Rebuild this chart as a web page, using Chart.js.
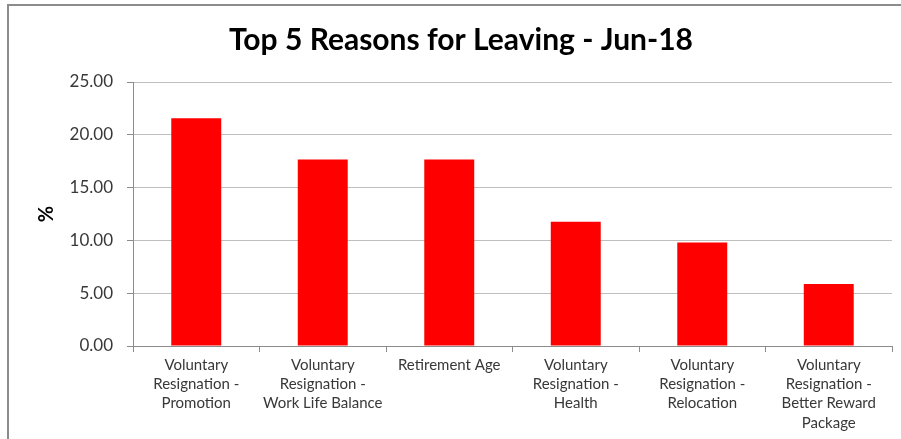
<!DOCTYPE html>
<html lang="en">
<head>
  <meta charset="UTF-8">
  <title>Top 5 Reasons for Leaving</title>
  <script src="https://cdn.jsdelivr.net/npm/chart.js"></script>
  <style>
    html, body { margin: 0; padding: 0; background: #fff; overflow: hidden; }
    #wrap { position: relative; width: 901px; height: 439px; }
    #frame {
      position: absolute; left: 7px; top: 4px; width: 920px; height: 460px;
      border: 2px solid #8c8c8c; pointer-events: none; z-index: 2;
    }
    canvas { position: absolute; left: 0; top: 0; }
  </style>
</head>
<body>
  <div id="wrap">
    <div id="frame"></div>
    <canvas id="reasonsChart" width="901" height="439"></canvas>
  </div>

  <script>
    const reasons = [
      ['Voluntary', 'Resignation -', 'Promotion'],
      ['Voluntary', 'Resignation -', 'Work Life Balance'],
      'Retirement Age',
      ['Voluntary', 'Resignation -', 'Health'],
      ['Voluntary', 'Resignation -', 'Relocation'],
      ['Voluntary', 'Resignation -', 'Better Reward', 'Package']
    ];
    const percentages = [21.57, 17.65, 17.65, 11.76, 9.80, 5.88];
    const yTicks = [0, 5, 10, 15, 20, 25];

    const font = 'Lato, "Open Sans", sans-serif';

    new Chart(document.getElementById('reasonsChart'), {
      type: 'bar',
      data: {
        labels: reasons,
        datasets: [{
          label: '%',
          data: percentages,
          backgroundColor: '#ff0000',
          borderWidth: 0,
          categoryPercentage: 0.79,
          barPercentage: 0.5
        }]
      },
      options: {
        responsive: false,
        animation: false,
        layout: { padding: { left: 30, right: 9, top: 0, bottom: 0 } },
        plugins: {
          legend: { display: false },
          tooltip: { enabled: false },
          title: {
            display: true,
            text: 'Top 5 Reasons for Leaving - Jun-18',
            color: '#000',
            font: { family: font, size: 30, weight: 'bold', lineHeight: 1.2 },
            padding: { top: 22, bottom: 24 }
          }
        },
        scales: {
          x: {
            grid: {
              display: true,
              drawOnChartArea: false,
              drawTicks: true,
              tickLength: 6,
              color: '#8c8c8c',
              offset: true
            },
            border: { color: '#8c8c8c', width: 1 },
            ticks: {
              color: '#383838',
              padding: 4,
              maxRotation: 0,
              autoSkip: false,
              font: { family: font, size: 15, lineHeight: 1.27 }
            },
            afterFit: s => { s.height = 93; }
          },
          y: {
            min: 0,
            max: 25,
            afterBuildTicks: s => { s.ticks = yTicks.map(v => ({ value: v })); },
            grid: { color: '#bfbfbf', tickLength: 6, tickColor: '#8c8c8c' },
            border: { color: '#8c8c8c', width: 1 },
            ticks: {
              color: '#383838',
              padding: 14,
              font: { family: font, size: 17 },
              callback: v => v.toFixed(2)
            },
            title: {
              display: true,
              text: '%',
              color: '#000',
              font: { family: font, size: 20, weight: 'bold', lineHeight: 1.2 },
              padding: { top: 5, bottom: 0 }
            },
            afterFit: s => { s.width = 103; }
          }
        }
      }
    });
  </script>
</body>
</html>
